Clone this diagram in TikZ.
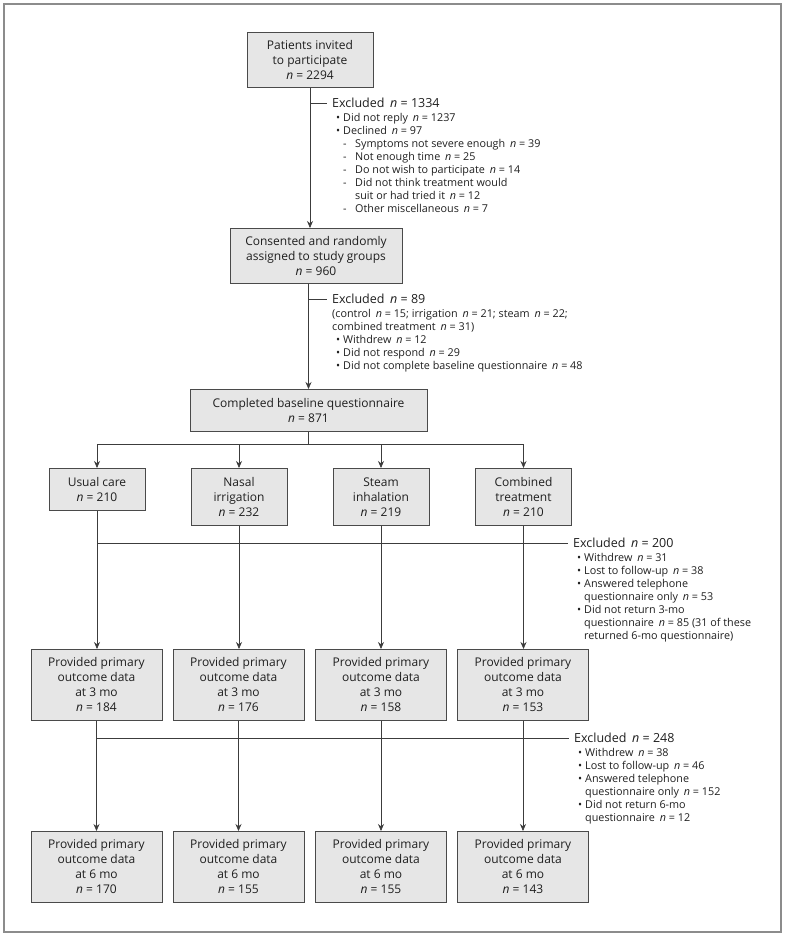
\documentclass[tikz,border=0pt]{standalone}
\usepackage{fontspec}
\setmainfont{Open Sans}
\usetikzlibrary{arrows.meta}
\definecolor{boxfill}{HTML}{E6E6E6}
\definecolor{boxline}{HTML}{4A4A4A}
\definecolor{wire}{HTML}{3C3C3C}
\definecolor{framegray}{HTML}{8C8C8C}
\newcommand{\nn}[1]{\hspace{0.45em}\textit{n} = #1}
\newcommand{\itm}{\hspace*{4pt}\makebox[7pt][l]{\textbullet}}
\newcommand{\itc}{\hspace*{11pt}}
\newcommand{\sub}{\hspace*{11pt}\makebox[12pt][l]{-}}
\newcommand{\subc}{\hspace*{23pt}}
\begin{document}
\begin{tikzpicture}[x=1pt, y=-1pt,
    box/.style={draw=boxline, fill=boxfill, line width=0.8pt, align=center, inner sep=2pt,
        text=black!88, font=\fontsize{12}{15}\selectfont},
    hdr/.style={anchor=west, inner xsep=5pt, inner ysep=0pt, text=black!88,
        font=\fontsize{12.5}{13}\selectfont},
    lst/.style={anchor=north west, align=left, inner sep=0pt, text=black!88,
        font=\fontsize{10.8}{13}\selectfont},
    wire/.style={draw=wire, line width=0.7pt},
    arr/.style={-{Stealth[length=7pt,width=6pt]}}]
    \useasboundingbox (0,0) rectangle (786,937);
    \draw[draw=framegray, line width=1.4pt] (4,4) rectangle (781,932);

    % enrolment
    \node[box, minimum width=126pt, minimum height=55pt, anchor=north] (invited) at (310,32) {Patients invited\\to participate\\\textit{n} = 2294};
    \node[box, minimum width=172pt, minimum height=55pt, anchor=north] (consent) at (316,228) {Consented and randomly\\assigned to study groups\\\textit{n} = 960};
    \node[box, minimum width=237pt, minimum height=42pt, anchor=north] (baseline) at (308.5,389) {Completed baseline questionnaire\\\textit{n} = 871};

    \node[hdr] (exA) at (327,103) {Excluded\nn{1334}};
    \node[lst] (exAlist) at ([xshift=5pt,yshift=-4.8pt]exA.south west) {\itm Did not reply\nn{1237}\\
        \itm Declined\nn{97}\\
        \sub Symptoms not severe enough\nn{39}\\
        \sub Not enough time\nn{25}\\
        \sub Do not wish to participate\nn{14}\\
        \sub Did not think treatment would\\
        \subc suit or had tried it\nn{12}\\
        \sub Other miscellaneous\nn{7}};
    \node[hdr] (exB) at (327,299) {Excluded\nn{89}};
    \node[lst] (exBlist) at ([xshift=5pt,yshift=-4.8pt]exB.south west) {(control\nn{15}; irrigation\nn{21}; steam\nn{22};\\
        combined treatment\nn{31})\\
        \itm Withdrew\nn{12}\\
        \itm Did not respond\nn{29}\\
        \itm Did not complete baseline questionnaire\nn{48}};

    % allocation
    \node[box, minimum width=96pt, minimum height=42pt, anchor=north] (usual) at (97,468) {Usual care\\\textit{n} = 210};
    \node[box, minimum width=96pt, minimum height=57pt, anchor=north] (nasal) at (239,468) {Nasal\\irrigation\\\textit{n} = 232};
    \node[box, minimum width=96pt, minimum height=57pt, anchor=north] (steam) at (381,468) {Steam\\inhalation\\\textit{n} = 219};
    \node[box, minimum width=96pt, minimum height=57pt, anchor=north] (combined) at (523.5,468) {Combined\\treatment\\\textit{n} = 210};

    \node[hdr] (exC) at (568,543) {Excluded\nn{200}};
    \node[lst] (exClist) at ([xshift=5pt,yshift=-4.8pt]exC.south west) {\itm Withdrew\nn{31}\\
        \itm Lost to follow-up\nn{38}\\
        \itm Answered telephone\\
        \itc questionnaire only\nn{53}\\
        \itm Did not return 3-mo\\
        \itc questionnaire\nn{85} (31 of these\\
        \itc returned 6-mo questionnaire)};

    % follow-up
    \node[box, minimum width=131pt, minimum height=71pt, anchor=north] (usualA) at (96.5,649) {Provided primary\\outcome data\\at 3 mo\\\textit{n} = 184};
    \node[box, minimum width=131pt, minimum height=71pt, anchor=north] (nasalA) at (238.5,649) {Provided primary\\outcome data\\at 3 mo\\\textit{n} = 176};
    \node[box, minimum width=131pt, minimum height=71pt, anchor=north] (steamA) at (381,649) {Provided primary\\outcome data\\at 3 mo\\\textit{n} = 158};
    \node[box, minimum width=131pt, minimum height=71pt, anchor=north] (combinedA) at (523,649) {Provided primary\\outcome data\\at 3 mo\\\textit{n} = 153};

    \node[hdr] (exD) at (569,738) {Excluded\nn{248}};
    \node[lst] (exDlist) at ([xshift=5pt,yshift=-4.8pt]exD.south west) {\itm Withdrew\nn{38}\\
        \itm Lost to follow-up\nn{46}\\
        \itm Answered telephone\\
        \itc questionnaire only\nn{152}\\
        \itm Did not return 6-mo\\
        \itc questionnaire\nn{12}};

    \node[box, minimum width=131pt, minimum height=71pt, anchor=north] (usualB) at (96.5,831) {Provided primary\\outcome data\\at 6 mo\\\textit{n} = 170};
    \node[box, minimum width=131pt, minimum height=71pt, anchor=north] (nasalB) at (238.5,831) {Provided primary\\outcome data\\at 6 mo\\\textit{n} = 155};
    \node[box, minimum width=131pt, minimum height=71pt, anchor=north] (steamB) at (381,831) {Provided primary\\outcome data\\at 6 mo\\\textit{n} = 155};
    \node[box, minimum width=131pt, minimum height=71pt, anchor=north] (combinedB) at (523,831) {Provided primary\\outcome data\\at 6 mo\\\textit{n} = 143};

    % connectors
    \draw[wire, arr] (invited.south) -- (invited.south |- consent.north);
    \draw[wire] (invited.south |- exA.west) -- (exA.west);
    \draw[wire, arr] (baseline.north |- consent.south) -- (baseline.north);
    \draw[wire] (baseline.north |- exB.west) -- (exB.west);

    \draw[wire] (baseline.south) -- ++(0,13) coordinate (split);
    \draw[wire] (usual.north |- split) -- (combined.north |- split);
    \draw[wire, arr] (usual.north |- split) -- (usual.north);
    \draw[wire, arr] (nasal.north |- split) -- (nasal.north);
    \draw[wire, arr] (steam.north |- split) -- (steam.north);
    \draw[wire, arr] (combined.north |- split) -- (combined.north);

    \draw[wire, arr] (usual.south) -- (usual.south |- usualA.north);
    \draw[wire, arr] (nasal.south) -- (nasal.south |- nasalA.north);
    \draw[wire, arr] (steam.south) -- (steam.south |- steamA.north);
    \draw[wire, arr] (combined.south) -- (combined.south |- combinedA.north);
    \draw[wire] (usual.south |- exC.west) -- (exC.west);

    \draw[wire, arr] (usualA.south) -- (usualA.south |- usualB.north);
    \draw[wire, arr] (nasalA.south) -- (nasalA.south |- nasalB.north);
    \draw[wire, arr] (steamA.south) -- (steamA.south |- steamB.north);
    \draw[wire, arr] (combinedA.south) -- (combinedA.south |- combinedB.north);
    \draw[wire] (usualA.south |- exD.west) -- (exD.west);
\end{tikzpicture}
\end{document}
